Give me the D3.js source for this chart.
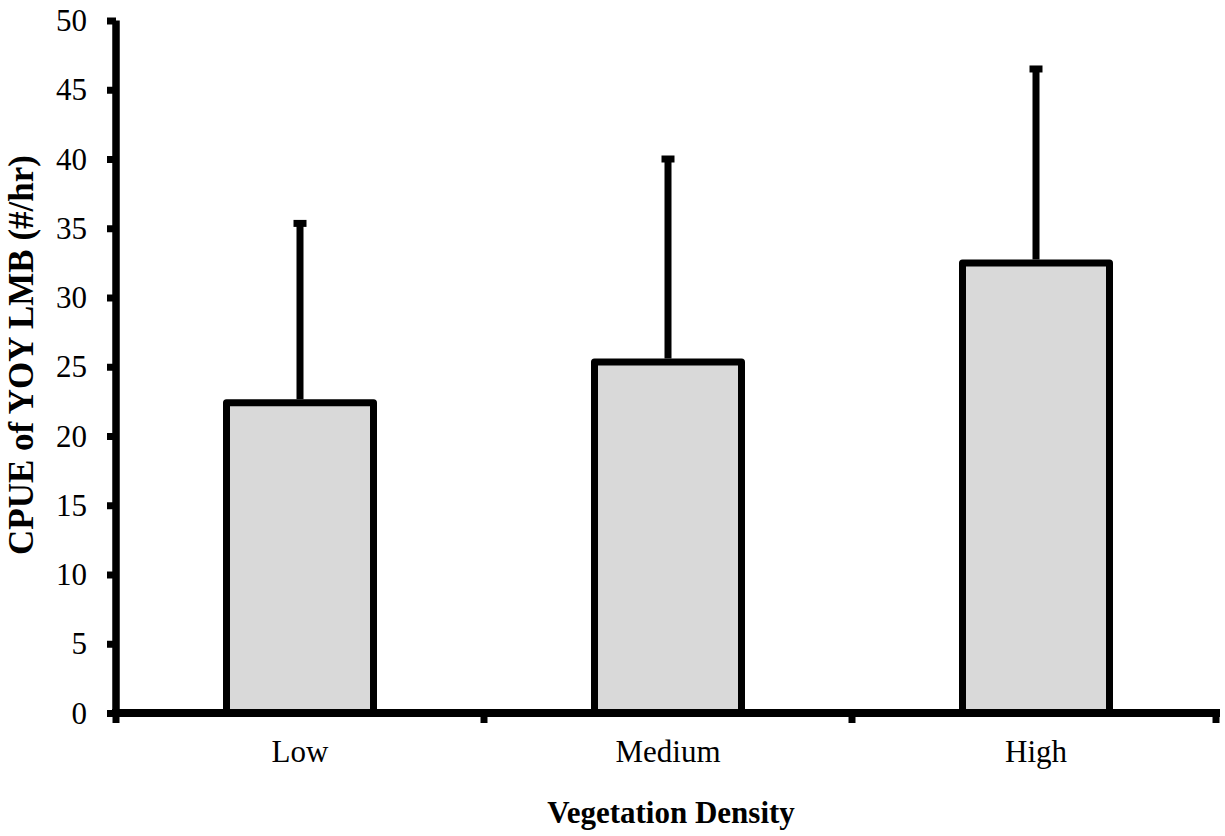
<!DOCTYPE html>
<html><head><meta charset="utf-8">
<script src="https://cdn.jsdelivr.net/npm/d3@7"></script>
<style>body{margin:0;background:#fff}svg{display:block}</style>
</head><body>
<script>
const categories = ["Low", "Medium", "High"];
const means = [22.4, 25.35, 32.5];
const upper = [35.35, 40.0, 46.5];
const yTicks = [0, 5, 10, 15, 20, 25, 30, 35, 40, 45, 50];

const W = 1225, H = 836;
const m = {left: 116, right: 5, top: 20.5, bottom: 123};
const svg = d3.select("body").append("svg").attr("width", W).attr("height", H);
const xPos = d3.scalePoint().domain(categories).range([m.left, W - m.right]).padding(0.5);
const y = d3.scaleLinear().domain([0, 50]).range([H - m.bottom, m.top]);
const font = "'Liberation Serif', 'Times New Roman', serif";
const fs = 31;

// bars
const bw = 147;
svg.selectAll("rect.bar").data(categories).join("rect")
  .attr("x", d => xPos(d) - bw / 2).attr("width", bw)
  .attr("y", (d, i) => y(means[i])).attr("height", (d, i) => y(0) - y(means[i]))
  .attr("fill", "#d9d9d9").attr("stroke", "#000").attr("stroke-width", 7)
  .attr("stroke-linejoin", "round");

// error bars
svg.selectAll("line.err").data(categories).join("line")
  .attr("x1", d => xPos(d)).attr("x2", d => xPos(d))
  .attr("y1", (d, i) => y(means[i]) - 3.5).attr("y2", (d, i) => y(upper[i]))
  .attr("stroke", "#000").attr("stroke-width", 7);
svg.selectAll("line.cap").data(categories).join("line")
  .attr("x1", d => xPos(d) - 6.5).attr("x2", d => xPos(d) + 6.5)
  .attr("y1", (d, i) => y(upper[i])).attr("y2", (d, i) => y(upper[i]))
  .attr("stroke", "#000").attr("stroke-width", 7);

// y axis
const ya = svg.append("g").attr("transform", `translate(${m.left},0)`)
  .call(d3.axisLeft(y).tickValues(yTicks).tickSize(9).tickPadding(20).tickSizeOuter(0));
ya.select(".domain").attr("stroke-width", 7.5).attr("d", `M0,${y(50)}V${y(0) + 4}`);
ya.selectAll(".tick line").attr("stroke-width", 7);
ya.selectAll(".tick text").attr("font-family", font).attr("font-size", fs).attr("fill", "#000").attr("dy", "0.33em");

// x axis
const xa = svg.append("g").attr("transform", `translate(0,${y(0)})`);
xa.append("line").attr("x1", m.left - 4).attr("x2", W - m.right).attr("stroke", "#000").attr("stroke-width", 8);
const xEdges = d3.range(categories.length + 1).map(i => m.left + i * (W - m.right - m.left) / categories.length);
xa.selectAll("line.xt").data(xEdges).join("line")
  .attr("x1", d => Math.min(d, W - m.right - 4)).attr("x2", d => Math.min(d, W - m.right - 4))
  .attr("y1", 0).attr("y2", 10).attr("stroke", "#000").attr("stroke-width", 7);
xa.selectAll("text").data(categories).join("text")
  .attr("x", d => xPos(d)).attr("y", 49)
  .attr("text-anchor", "middle").attr("font-family", font).attr("font-size", fs).text(d => d);

// titles
svg.append("text").attr("x", (m.left + W - m.right) / 2 + 3).attr("y", 823)
  .attr("text-anchor", "middle").attr("font-family", font).attr("font-size", fs).attr("font-weight", "bold")
  .text("Vegetation Density");
svg.append("text").attr("transform", `translate(33,355) rotate(-90)`)
  .attr("text-anchor", "middle").attr("font-family", font).attr("font-size", 35).attr("font-weight", "bold")
  .text("CPUE of YOY LMB (#/hr)");
</script>
</body></html>
